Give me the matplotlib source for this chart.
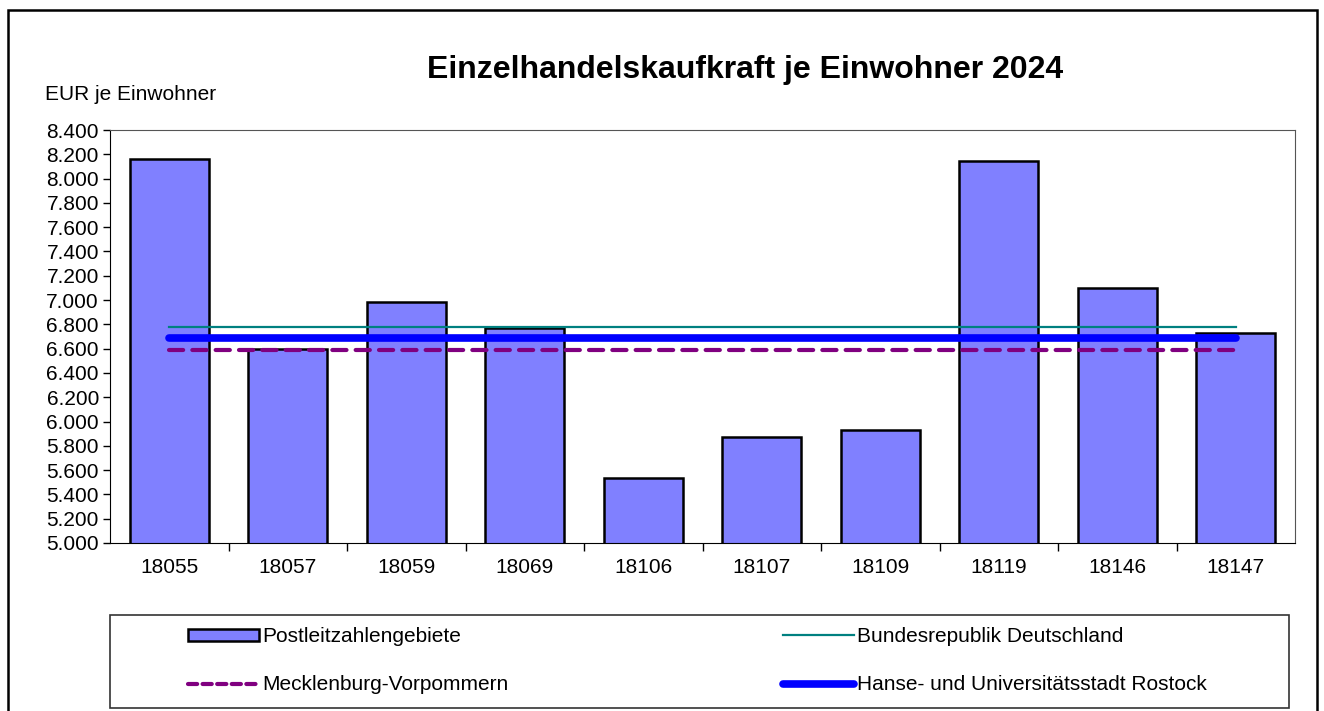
import matplotlib.pyplot as plt
from matplotlib.patches import Rectangle, Patch
from matplotlib.lines import Line2D
from matplotlib.ticker import FuncFormatter, MultipleLocator

plt.rcParams['font.family'] = ['Liberation Sans', 'DejaVu Sans']

# Data
plz = ['18055', '18057', '18059', '18069', '18106', '18107', '18109', '18119', '18146', '18147']
kaufkraft = [8160, 6600, 6980, 6770, 5535, 5875, 5930, 8145, 7100, 6725]
brd = 6775
mv = 6590
rostock = 6688

fig = plt.figure(figsize=(13.24, 7.11), dpi=100)
W, H = 1324, 711
ax = fig.add_axes([110 / W, 1 - 543 / H, (1295 - 110) / W, (543 - 130) / H])

x = list(range(len(plz)))
ax.bar(x, kaufkraft, width=0.67, color='#8080FF', edgecolor='black', linewidth=1.8, zorder=2)
ax.plot(x, [brd] * len(x), color='#008080', linewidth=1.6, zorder=3)
ax.plot(x, [rostock] * len(x), color='#0000FF', linewidth=5.5, solid_capstyle='round', zorder=4)
ax.plot(x, [mv] * len(x), color='#800080', linewidth=3, dashes=(3.4, 2.2),
        dash_capstyle='round', zorder=5)

ax.set_xlim(-0.5, len(plz) - 0.5)
ax.set_ylim(5000, 8400)
ax.yaxis.set_major_locator(MultipleLocator(200))
ax.yaxis.set_major_formatter(FuncFormatter(lambda v, p: f"{v:,.0f}".replace(",", ".")))
ax.tick_params(axis='y', labelsize=15, length=5, width=1, direction='out', pad=3)

# category boundaries as major ticks, labels on minor ticks
ax.set_xticks([i + 0.5 for i in x[:-1]])
ax.set_xticklabels([])
ax.set_xticks(x, minor=True)
ax.set_xticklabels(plz, minor=True)
ax.tick_params(axis='x', which='major', length=6, width=1, direction='out')
ax.tick_params(axis='x', which='minor', length=0, labelsize=15, pad=11)

for s in ['top', 'right']:
    ax.spines[s].set_color('#555555')
ax.spines['left'].set_color('black')
ax.spines['bottom'].set_color('black')

fig.text(745 / W, 1 - 70 / H, 'Einzelhandelskaufkraft je Einwohner 2024',
         ha='center', va='center', fontsize=23, fontweight='bold')
fig.text(45 / W, 1 - 95 / H, 'EUR je Einwohner', ha='left', va='center', fontsize=15)

# outer chart border
fig.patches.append(Rectangle((8 / W, -0.02), (1317 - 8) / W, 1 - 10 / H + 0.02,
                             transform=fig.transFigure, fill=False,
                             edgecolor='black', linewidth=1.8))
# legend frame
fig.patches.append(Rectangle((110 / W, 1 - 708 / H), (1289 - 110) / W, (708 - 615) / H,
                             transform=fig.transFigure, fill=False,
                             edgecolor='#333333', linewidth=1.2))

handles = [
    Patch(facecolor='#8080FF', edgecolor='black', linewidth=1.8),
    Line2D([], [], color='#800080', linewidth=3, dashes=(2.2, 1.3), dash_capstyle='round'),
    Line2D([], [], color='#008080', linewidth=1.6),
    Line2D([], [], color='#0000FF', linewidth=5.5, solid_capstyle='round'),
]
labels = ['Postleitzahlengebiete', 'Mecklenburg-Vorpommern',
          'Bundesrepublik Deutschland', 'Hanse- und Universitätsstadt Rostock']
fig.legend(handles, labels, ncol=2, frameon=False, fontsize=15,
           loc='upper left', bbox_to_anchor=(188 / W, 1 - 627 / H),
           handlelength=3.4, handleheight=0.5, handletextpad=0.15,
           columnspacing=13.2, labelspacing=1.4, borderpad=0, borderaxespad=0)

fig.savefig('out.png', dpi=100)
